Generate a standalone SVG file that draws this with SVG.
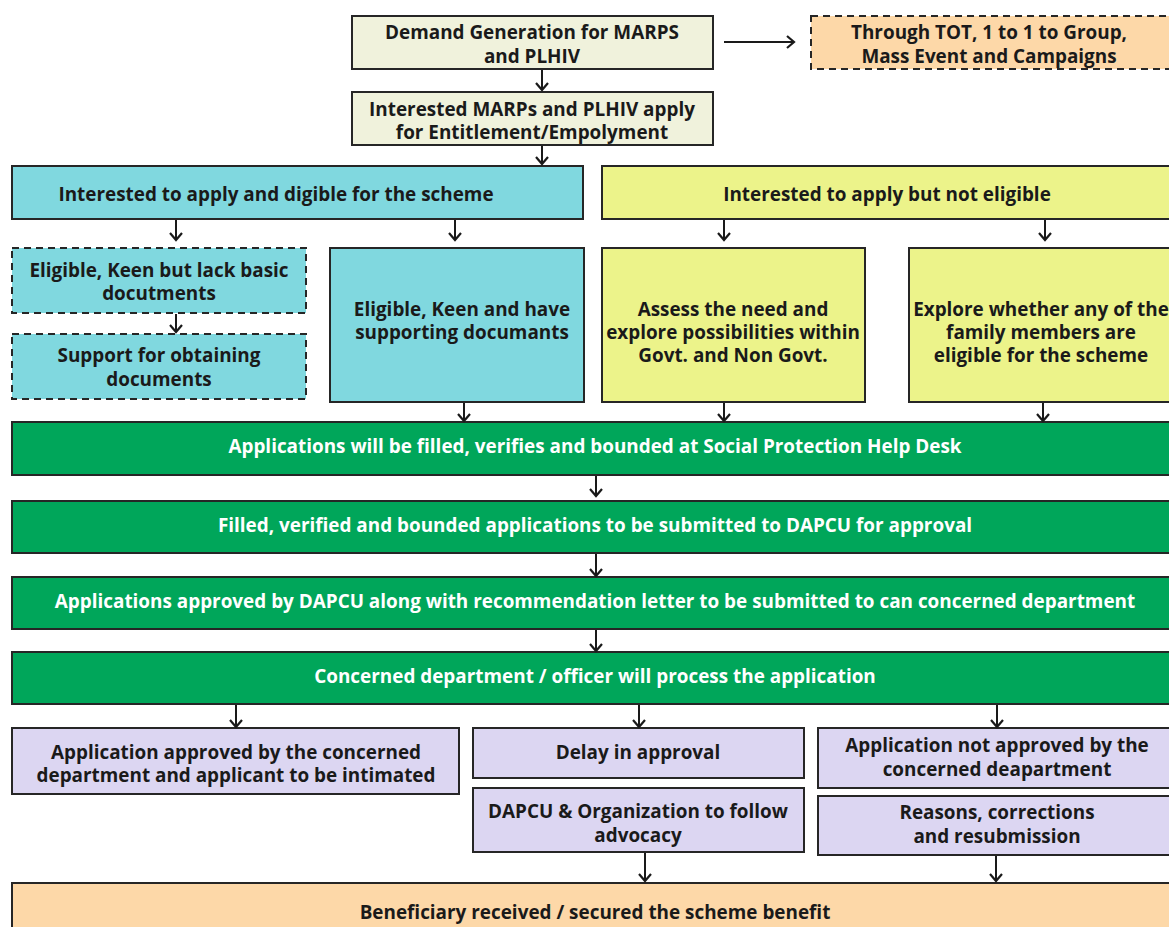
<svg xmlns="http://www.w3.org/2000/svg" width="1169" height="927" viewBox="0 0 1169 927">
<style>
text{font-family:"Open Sans","Noto Sans","Liberation Sans",sans-serif;font-weight:bold;font-size:18.9px;fill:#1a1a1a;text-anchor:middle}
.w{fill:#ffffff}
.n rect{stroke:#262626;stroke-width:2}
.dash{stroke-dasharray:7 5}
.beige{fill:#f0f2dc}
.peach{fill:#fdd8a8}
.cyan{fill:#80d8df}
.yel{fill:#ecf38a}
.grn{fill:#00a65a}
.pur{fill:#dcd6f2}
.c line{stroke:#1a1a1a;stroke-width:2;marker-end:url(#ah)}
</style>
<defs>
<marker id="ah" markerUnits="userSpaceOnUse" markerWidth="16" markerHeight="16" refX="8" refY="8" orient="auto" viewBox="0 0 16 16">
<path d="M1,2 L8,8 L1,14" fill="none" stroke="#1a1a1a" stroke-width="2.2"/>
</marker>
</defs>
<rect width="1169" height="927" fill="#ffffff"/>

<g class="n">
<g id="demand"><rect class="beige" x="352" y="16" width="361" height="53"/><text x="532" y="39">Demand Generation for MARPS</text><text x="532" y="63">and PLHIV</text></g>
<g id="tot"><rect class="peach dash" x="811" y="16" width="370" height="53"/><text x="989" y="39">Through TOT, 1 to 1 to Group,</text><text x="989" y="63">Mass Event and Campaigns</text></g>
<g id="apply"><rect class="beige" x="352" y="92" width="361" height="53"/><text x="532" y="116">Interested MARPs and PLHIV apply</text><text x="532" y="139">for Entitlement/Empolyment</text></g>
<g id="eligible"><rect class="cyan" x="12" y="166" width="571" height="53"/><text x="276" y="201">Interested to apply and digible for the scheme</text></g>
<g id="noteligible"><rect class="yel" x="602" y="166" width="580" height="53"/><text x="887" y="201">Interested to apply but not eligible</text></g>
<g id="lack"><rect class="cyan dash" x="12" y="248" width="294" height="65"/><text x="159" y="277">Eligible, Keen but lack basic</text><text x="159" y="300">docutments</text></g>
<g id="support"><rect class="cyan dash" x="12" y="334" width="294" height="65"/><text x="159" y="362">Support for obtaining</text><text x="159" y="386">documents</text></g>
<g id="have"><rect class="cyan" x="330" y="248" width="254" height="154"/><text x="462" y="316">Eligible, Keen and have</text><text x="462" y="339">supporting documants</text></g>
<g id="assess"><rect class="yel" x="602" y="248" width="263" height="154"/><text x="733" y="316">Assess the need and</text><text x="733" y="339">explore possibilities within</text><text x="733" y="362">Govt. and Non Govt.</text></g>
<g id="explore"><rect class="yel" x="909" y="248" width="270" height="154"/><text x="1041" y="316">Explore whether any of the</text><text x="1041" y="339">family members are</text><text x="1041" y="362">eligible for the scheme</text></g>
<g id="helpdesk"><rect class="grn" x="12" y="422" width="1170" height="53"/><text class="w" x="595" y="453">Applications will be filled, verifies and bounded at Social Protection Help Desk</text></g>
<g id="submit"><rect class="grn" x="12" y="501" width="1170" height="52"/><text class="w" x="595" y="532">Filled, verified and bounded applications to be submitted to DAPCU for approval</text></g>
<g id="approved"><rect class="grn" x="12" y="577" width="1170" height="52"/><text class="w" x="595" y="608">Applications approved by DAPCU along with recommendation letter to be submitted to can concerned department</text></g>
<g id="process"><rect class="grn" x="12" y="652" width="1170" height="52"/><text class="w" x="595" y="683">Concerned department / officer will process the application</text></g>
<g id="ok"><rect class="pur" x="12" y="728" width="447" height="66"/><text x="236" y="759">Application approved by the concerned</text><text x="236" y="782">department and applicant to be intimated</text></g>
<g id="delay"><rect class="pur" x="473" y="728" width="331" height="50"/><text x="638" y="759">Delay in approval</text></g>
<g id="advocacy"><rect class="pur" x="473" y="788" width="331" height="64"/><text x="638" y="818">DAPCU &amp; Organization to follow</text><text x="638" y="842">advocacy</text></g>
<g id="notok"><rect class="pur" x="818" y="728" width="364" height="60"/><text x="997" y="752">Application not approved by the</text><text x="997" y="776">concerned deapartment</text></g>
<g id="reasons"><rect class="pur" x="818" y="796" width="364" height="59"/><text x="997" y="819">Reasons, corrections</text><text x="997" y="843">and resubmission</text></g>
<g id="benefit"><rect class="peach" x="12" y="883" width="1170" height="60"/><text x="595" y="919">Beneficiary received / secured the scheme benefit</text></g>
</g>

<g id="connectors" class="c">
<line x1="724" y1="42" x2="794" y2="42"/>
<line x1="542" y1="70" x2="542" y2="90"/>
<line x1="542" y1="146" x2="542" y2="164"/>
<line x1="176" y1="220" x2="176" y2="240"/>
<line x1="455" y1="220" x2="455" y2="240"/>
<line x1="724" y1="220" x2="724" y2="240"/>
<line x1="1045" y1="220" x2="1045" y2="240"/>
<line x1="176" y1="314" x2="176" y2="332"/>
<line x1="464" y1="403" x2="464" y2="421"/>
<line x1="724" y1="403" x2="724" y2="421"/>
<line x1="1043" y1="403" x2="1043" y2="421"/>
<line x1="596" y1="476" x2="596" y2="496"/>
<line x1="596" y1="554" x2="596" y2="576"/>
<line x1="596" y1="630" x2="596" y2="651"/>
<line x1="236" y1="705" x2="236" y2="727"/>
<line x1="639" y1="705" x2="639" y2="727"/>
<line x1="997" y1="705" x2="997" y2="727"/>
<line x1="645" y1="853" x2="645" y2="881"/>
<line x1="996" y1="856" x2="996" y2="881"/>
</g>
</svg>
